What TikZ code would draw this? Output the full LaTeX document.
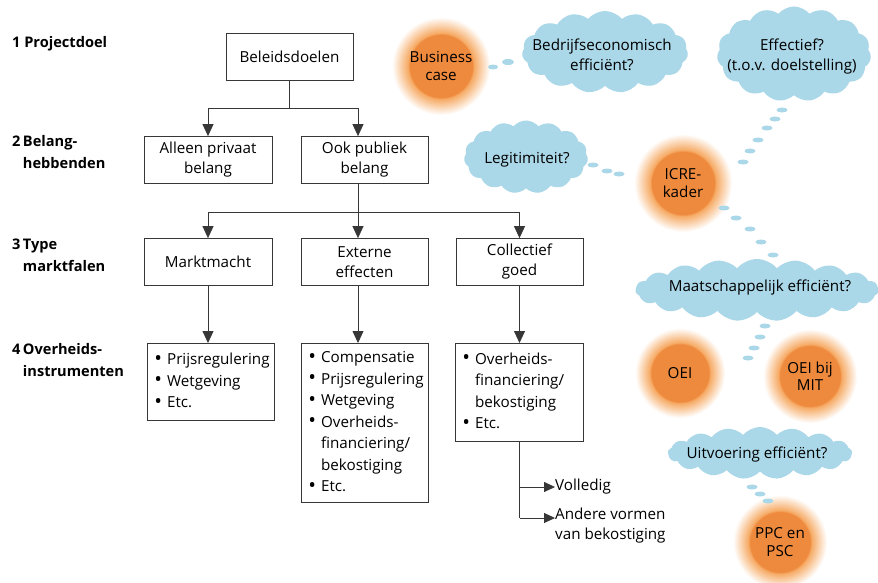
\documentclass[tikz,border=0pt]{standalone}
\usepackage{fontspec}
\setmainfont{Open Sans}
\usetikzlibrary{shapes.symbols,arrows.meta}
\definecolor{cloudblue}{RGB}{170,216,232}
\definecolor{orcore}{RGB}{238,138,62}
\definecolor{orglow}{RGB}{246,170,100}
\definecolor{linegray}{RGB}{55,55,55}
\pgfdeclareradialshading{glowshade}{\pgfpoint{0bp}{0bp}}{color(0bp)=(orcore); color(16bp)=(orcore); color(16.8bp)=(orglow); color(20.5bp)=(orglow!55!white); color(25bp)=(white); color(50bp)=(white)}
\newcommand{\bul}{\raisebox{-0.3pt}{\scalebox{1.35}{\textbullet}}}
\begin{document}
\begin{tikzpicture}[x=1pt,y=-1pt,
  txt/.style={font=\fontsize{15.2}{20}\selectfont, align=center, inner sep=0pt},
  lab/.style={font=\bfseries\fontsize{14.6}{22}\selectfont, anchor=west, inner sep=0pt, align=left},
  box/.style={draw=linegray, line width=0.8pt, minimum width=128, minimum height=47, align=center, inner sep=2pt, font=\fontsize{15.2}{20}\selectfont},
  bbox/.style={draw=linegray, line width=0.8pt, anchor=north west, inner ysep=0pt, inner xsep=7pt, align=left, font=\fontsize{15.2}{21.5}\selectfont},
  ln/.style={draw=linegray, line width=0.8pt},
  arr/.style={ln, -{Triangle[width=11pt,length=12pt]}},
  sarr/.style={ln, -{Triangle[width=10pt,length=11pt]}},
  cloudsh/.style={cloud, cloud puffs=15, cloud puff arc=100, cloud ignores aspect, fill=cloudblue, draw=none, inner sep=0pt},
  orb/.style={circle, minimum size=98, inner sep=0pt, shading=glowshade, align=center, font=\fontsize{15.2}{17.5}\selectfont},
  bub/.style={fill=cloudblue}
]
\useasboundingbox (0,0) rectangle (878,583);
\fill[white] (0,0) rectangle (878,583);

% left labels
\node[lab] (l1) at (12,44) {1 Projectdoel};
\node[lab] (l2) at (12,153) {\begin{tabular}{@{}l@{\,}l@{}}2 & Belang-\\ & hebbenden\end{tabular}};
\node[lab] (l3) at (12,256) {\begin{tabular}{@{}l@{\,}l@{}}3 & Type\\ & marktfalen\end{tabular}};
\node[lab] (l4) at (12,361) {\begin{tabular}{@{}l@{\,}l@{}}4 & Overheids-\\ & instrumenten\end{tabular}};

% tree
\node[box, minimum width=127] (bd) at (289.5,56.5) {Beleidsdoelen};
\node[box] (ap) at (208,160) {Alleen privaat\\belang};
\node[box, minimum width=127] (op) at (364.5,160) {Ook publiek\\belang};
\node[box] (mm) at (208,262) {Marktmacht};
\node[box, minimum width=127] (ee) at (364.5,262) {Externe\\effecten};
\node[box, minimum width=127] (cg) at (519.5,262) {Collectief\\goed};

\node[bbox, minimum width=127, minimum height=77, text width=113] (ia) at (147,343)
 {\begin{tabular}{@{}l@{\hspace{5pt}}l@{}}\bul & Prijsregulering\\ \bul & Wetgeving\\ \bul & Etc.\end{tabular}};
\node[bbox, minimum width=127, minimum height=159, text width=113] (ib) at (301,343)
 {\begin{tabular}{@{}l@{\hspace{5pt}}l@{}}\bul & Compensatie\\ \bul & Prijsregulering\\ \bul & Wetgeving\\ \bul & Overheids-\\ & financiering/\\ & bekostiging\\ \bul & Etc.\end{tabular}};
\node[bbox, minimum width=128, minimum height=98, text width=114] (ic) at (455,343)
 {\begin{tabular}{@{}l@{\hspace{5pt}}l@{}}\bul & Overheids-\\ & financiering/\\ & bekostiging\\ \bul & Etc.\end{tabular}};

\coordinate (j1) at (289.5,108);
\draw[ln] (bd.south) -- (j1);
\draw[arr] (j1) -| (ap.north);
\draw[arr] (j1) -| ([xshift=-6.5pt]op.north);
\coordinate (j2) at (358,212);
\draw[ln] ([xshift=-6.5pt]op.south) -- (j2);
\draw[arr] (j2) -| (mm.north);
\draw[arr] (j2) -- ([xshift=-6.5pt]ee.north);
\draw[arr] (j2) -| (cg.north);
\draw[arr] (mm.south) -- (mm.south |- ia.north);
\draw[arr] ([xshift=-6.5pt]ee.south) -- ([xshift=-6.5pt]ee.south |- ib.north);
\draw[arr] (cg.south) -- (cg.south |- ic.north);

\node[txt, anchor=west] (vol) at (555,487) {Volledig};
\node[txt, anchor=north west, align=left] (and) at (555,508) {Andere vormen\\van bekostiging};
\coordinate (j3) at (519.5,487);
\coordinate (j4) at (519.5,518);
\draw[ln] (ic.south -| j3) -- (j4);
\draw[sarr] (j3) -- (vol.west);
\draw[sarr] (j4) -- (j4 -| vol.west);

% orange orbs
\node[orb] (bc) at (441,66) {Business\\case};
\node[orb] (icre) at (683,183) {ICRE-\\kader};
\node[orb, minimum size=90] (oei) at (680,373) {OEI};
\node[orb, minimum size=94] (mit) at (810,376) {OEI bij\\MIT};
\node[orb, minimum size=94] (ppc) at (780,542) {PPC en\\PSC};

% clouds
\node[cloudsh, minimum width=166, minimum height=82] (c1) at (605,52) {};
\node[txt] (t1) at (602,55) {Bedrijfseconomisch\\efficiënt?};
\node[cloudsh, minimum width=154, minimum height=95] (c2) at (794,54) {};
\node[txt] (t2) at (792,57) {Effectief?\\(t.o.v. doelstelling)};
\node[cloudsh, minimum width=124, minimum height=73] (c3) at (526,157) {};
\node[txt] (t3) at (527,160) {Legitimiteit?};
\node[cloudsh, cloud puffs=19, minimum width=243, minimum height=62] (c4) at (757,290) {};
\node[txt] (t4) at (760,288) {Maatschappelijk efficiënt?};
\node[cloudsh, cloud puffs=17, minimum width=184, minimum height=52] (c5) at (760,453) {};
\node[txt] (t5) at (757,455) {Uitvoering efficiënt?};

% thought bubbles
\fill[bub] (493,67) ellipse [x radius=5, y radius=2.5];
\fill[bub] (508,62) ellipse [x radius=6, y radius=3];
\foreach \p in {(782,110),(775,119),(767,128),(758,140),(750,151),(743,162)}
  \fill[bub] \p ellipse [x radius=5.5, y radius=2.5];
\foreach \p in {(593,165),(607,171),(619,174)}
  \fill[bub] \p ellipse [x radius=5.5, y radius=2.5];
\foreach \p in {(724,208),(736,218),(750,229),(761,242),(773,255)}
  \fill[bub] \p ellipse [x radius=5.5, y radius=2.5];
\foreach \p in {(765,326),(760,337),(754,348),(748,358)}
  \fill[bub] \p ellipse [x radius=5.5, y radius=2.5];
\foreach \p in {(752,487),(760,494),(768,501)}
  \fill[bub] \p ellipse [x radius=5.5, y radius=2.5];
\end{tikzpicture}
\end{document}
